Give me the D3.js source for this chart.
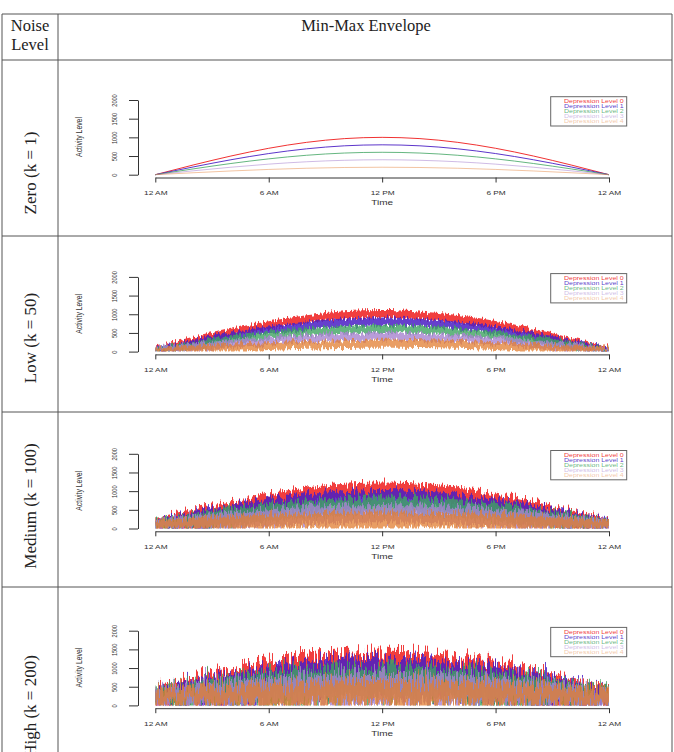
<!DOCTYPE html>
<html>
<head>
<meta charset="utf-8">
<script src="https://cdn.jsdelivr.net/npm/d3@7"></script>
<style>
body { margin: 0; background: #fff; }
svg { display: block; }
</style>
</head>
<body>
<svg id="chart" width="674" height="752"></svg>
<script>
// ---- data ----
// samples every 2 hours, midnight to midnight
const hours = [0, 2, 4, 6, 8, 10, 12, 14, 16, 18, 20, 22, 24];
const timeTicks = [0, 6, 12, 18, 24];
const timeLabels = ["12 AM", "6 AM", "12 PM", "6 PM", "12 AM"];
const activityTicks = [0, 500, 1000, 1500, 2000];
const levelNames = ["Depression Level 0", "Depression Level 1", "Depression Level 2", "Depression Level 3", "Depression Level 4"];
const rowLabels = ["Zero (k = 1)", "Low (k = 50)", "Medium (k = 100)", "High (k = 200)"];

// zero noise: one curve per level
const zeroLines = [
    [0, 259, 500, 707, 866, 966, 1000, 966, 866, 707, 500, 259, 0],
    [0, 207, 400, 566, 693, 773, 800, 773, 693, 566, 400, 207, 0],
    [0, 155, 300, 424, 520, 580, 600, 580, 520, 424, 300, 155, 0],
    [0, 104, 200, 283, 346, 386, 400, 386, 346, 283, 200, 104, 0],
    [0, 52, 100, 141, 173, 193, 200, 193, 173, 141, 100, 52, 0]
];

// low noise: max / min envelope per level
const lowUpper = [
    [110, 370, 610, 815, 975, 1080, 1115, 1075, 980, 820, 610, 365, 105],
    [105, 315, 510, 675, 805, 885, 910, 880, 800, 680, 505, 320, 100],
    [100, 265, 410, 535, 630, 690, 710, 690, 625, 530, 410, 265, 100],
    [100, 215, 310, 395, 455, 495, 505, 495, 455, 390, 310, 215, 100],
    [100, 160, 210, 250, 285, 305, 315, 305, 285, 250, 210, 160, 100]
];
const lowLower = [
    [0, 160, 400, 605, 765, 865, 900, 865, 765, 605, 400, 160, 0],
    [0, 105, 300, 465, 595, 675, 700, 675, 595, 465, 300, 105, 0],
    [0, 55, 200, 325, 420, 480, 500, 480, 420, 325, 200, 55, 0],
    [0, 5, 100, 185, 245, 285, 300, 285, 245, 185, 100, 5, 0],
    [0, 0, 0, 40, 75, 95, 100, 95, 75, 40, 0, 0, 0]
];

// medium noise
const medUpper = [
    [250, 500, 730, 940, 1100, 1200, 1230, 1195, 1095, 935, 725, 490, 240],
    [240, 440, 630, 795, 920, 1000, 1030, 1000, 920, 795, 630, 440, 235],
    [235, 385, 530, 655, 750, 810, 830, 810, 750, 655, 530, 385, 230],
    [230, 335, 430, 515, 575, 615, 630, 615, 575, 515, 430, 335, 230],
    [230, 280, 330, 370, 405, 425, 430, 425, 405, 370, 330, 280, 230]
];
const medLower = [
    [0, 30, 270, 480, 640, 740, 770, 740, 640, 480, 270, 30, 0],
    [0, 0, 170, 335, 460, 545, 570, 545, 460, 335, 170, 0, 0],
    [0, 0, 70, 195, 290, 350, 370, 350, 290, 195, 70, 0, 0],
    [0, 0, 0, 55, 115, 155, 170, 155, 115, 55, 0, 0, 0],
    [0, 0, 0, 0, 0, 0, 0, 0, 0, 0, 0, 0, 0]
];

// high noise
const highUpper = [
    [460, 720, 960, 1170, 1330, 1430, 1470, 1430, 1320, 1160, 950, 700, 450],
    [450, 660, 850, 1020, 1140, 1220, 1250, 1220, 1140, 1020, 850, 660, 450],
    [450, 600, 750, 875, 970, 1030, 1050, 1030, 970, 875, 750, 600, 450],
    [450, 555, 650, 735, 795, 835, 850, 835, 795, 735, 650, 555, 450],
    [450, 500, 550, 590, 625, 645, 650, 645, 625, 590, 550, 500, 450]
];
const highLower = [
    [0, 0, 50, 260, 420, 520, 550, 520, 420, 260, 50, 0, 0],
    [0, 0, 0, 120, 240, 320, 350, 320, 240, 120, 0, 0, 0],
    [0, 0, 0, 0, 70, 130, 150, 130, 70, 0, 0, 0, 0],
    [0, 0, 0, 0, 0, 0, 0, 0, 0, 0, 0, 0, 0],
    [0, 0, 0, 0, 0, 0, 0, 0, 0, 0, 0, 0, 0]
];

// ---- styling / layout ----
const levelColours = ["#ee1c1c", "#4a1fc4", "#3fa460", "#a783cf", "#e27d30"];
const bandOpacity = [0.85, 0.85, 0.8, 0.8, 0.75];
const lineOpacity = [0.9, 0.9, 0.8, 0.55, 0.45];
const jagScale = [0, 10, 18, 38];
const serif = "'Liberation Serif', 'DejaVu Serif', serif";
const sans = "'Liberation Sans', Arial, sans-serif";
const squash = 0.72;

const panels = [
    {lines: zeroLines},
    {upper: lowUpper, lower: lowLower},
    {upper: medUpper, lower: medLower},
    {upper: highUpper, lower: highLower}
];

const svg = d3.select("#chart");
const defs = svg.append("defs");

// table frame
const tableTop = 14, tableLeft = 2, tableRight = 672, colSplit = 58;
const rowLines = [60, 236, 412, 587];
const frame = svg.append("g").attr("stroke", "#555").attr("stroke-width", 1);
[tableTop].concat(rowLines).forEach(function(y) {
    frame.append("line").attr("x1", tableLeft).attr("x2", tableRight).attr("y1", y).attr("y2", y);
});
[tableLeft, colSplit, tableRight].forEach(function(x) {
    frame.append("line").attr("x1", x).attr("x2", x).attr("y1", tableTop).attr("y2", 752);
});

// header
svg.append("text").attr("x", 30).attr("y", 31).attr("text-anchor", "middle")
    .attr("font-family", serif).attr("font-size", 16.5).attr("fill", "#222").text("Noise");
svg.append("text").attr("x", 30).attr("y", 50).attr("text-anchor", "middle")
    .attr("font-family", serif).attr("font-size", 16.5).attr("fill", "#222").text("Level");
svg.append("text").attr("x", 366).attr("y", 31).attr("text-anchor", "middle")
    .attr("font-family", serif).attr("font-size", 16.5).attr("fill", "#222").text("Min-Max Envelope");

// rotated row labels
const rowLabelY = [173, 338, 506, 706];
rowLabels.forEach(function(lbl, i) {
    svg.append("text")
        .attr("transform", "translate(30," + rowLabelY[i] + ") rotate(-90)")
        .attr("text-anchor", "middle").attr("dy", "0.35em")
        .attr("font-family", serif).attr("font-size", 17).attr("fill", "#222")
        .text(lbl);
});

const x = d3.scaleLinear().domain([0, 24]).range([155.3, 609]);

panels.forEach(function(panel, p) {
    const top = 100 + p * 176.9;
    const y = d3.scaleLinear().domain([0, 2000]).range([top + 74.7, top]);
    const g = svg.append("g");

    if (panel.lines) {
        const line = d3.line()
            .x(function(d, i) { return x(hours[i]); })
            .y(function(d) { return y(d); })
            .curve(d3.curveMonotoneX);
        panel.lines.forEach(function(vals, l) {
            g.append("path").attr("d", line(vals))
                .attr("fill", "none")
                .attr("stroke", levelColours[l])
                .attr("stroke-opacity", lineOpacity[l])
                .attr("stroke-width", 1);
        });
    } else {
        // clip so the jagged bands stop at zero
        const clipId = "clip" + p;
        defs.append("clipPath").attr("id", clipId)
            .append("rect").attr("x", x(0)).attr("y", top - 40)
            .attr("width", x(24) - x(0)).attr("height", y(0) - top + 40);
        const bands = g.append("g").attr("clip-path", "url(#" + clipId + ")");

        const area = d3.area()
            .x(function(d, i) { return x(hours[i]); })
            .y0(function(d) { return y(d[0]); })
            .y1(function(d) { return y(d[1]); })
            .curve(d3.curveMonotoneX);

        panel.upper.forEach(function(up, l) {
            const fid = "jag" + p + "_" + l;
            const f = defs.append("filter").attr("id", fid)
                .attr("filterUnits", "userSpaceOnUse")
                .attr("x", 0).attr("y", 0).attr("width", 674).attr("height", 752)
                .attr("color-interpolation-filters", "sRGB");
            f.append("feTurbulence").attr("type", "fractalNoise")
                .attr("baseFrequency", "0.55 0.025").attr("numOctaves", 2)
                .attr("seed", p * 10 + l + 1).attr("result", "n");
            f.append("feColorMatrix").attr("in", "n").attr("type", "matrix")
                .attr("values", "0 0 0 0 0.5  0 1 0 0 0  0 0 0 0 0  0 0 0 0 1")
                .attr("result", "m");
            f.append("feDisplacementMap").attr("in", "SourceGraphic").attr("in2", "m")
                .attr("scale", jagScale[p])
                .attr("xChannelSelector", "R").attr("yChannelSelector", "G");

            const pts = up.map(function(v, i) { return [panel.lower[l][i], v]; });
            bands.append("path").attr("d", area(pts))
                .attr("fill", levelColours[l])
                .attr("fill-opacity", bandOpacity[l])
                .attr("filter", "url(#" + fid + ")");
        });
    }

    // x axis
    const xAxis = g.append("g")
        .attr("transform", "translate(0," + (top + 77.5) + ")")
        .call(d3.axisBottom(x).tickValues(timeTicks)
            .tickFormat(function(d, i) { return timeLabels[i]; })
            .tickSize(5).tickSizeOuter(0));
    xAxis.selectAll(".domain, .tick line").attr("stroke", "#333");
    xAxis.selectAll(".tick text")
        .attr("y", 0).attr("dy", "0.35em")
        .attr("transform", "translate(0,15.5) scale(1," + squash + ")")
        .attr("font-family", sans).attr("font-size", 8.3).attr("fill", "#333");

    // y axis
    const yAxis = g.append("g")
        .attr("transform", "translate(138,0)")
        .call(d3.axisLeft(y).tickValues(activityTicks).tickFormat(d3.format("d"))
            .tickSize(9).tickSizeOuter(0));
    yAxis.selectAll(".domain, .tick line").attr("stroke", "#333");
    yAxis.selectAll(".tick text")
        .attr("x", 0).attr("y", 0).attr("dy", "0.35em")
        .attr("text-anchor", "middle")
        .attr("transform", "translate(-24,0) rotate(-90) scale(" + squash + ",1)")
        .attr("font-family", sans).attr("font-size", 7.8).attr("fill", "#333");

    // axis titles
    g.append("text")
        .attr("transform", "translate(" + x(12) + "," + (top + 102.7) + ") scale(1," + squash + ")")
        .attr("text-anchor", "middle").attr("dy", "0.35em")
        .attr("font-family", sans).attr("font-size", 10).attr("fill", "#333")
        .text("Time");
    g.append("text")
        .attr("transform", "translate(79," + (top + 37) + ") rotate(-90) scale(" + squash + ",1)")
        .attr("text-anchor", "middle").attr("dy", "0.35em")
        .attr("font-family", sans).attr("font-size", 9.5).attr("fill", "#333")
        .text("Activity Level");

    // legend
    const lg = g.append("g");
    lg.append("rect").attr("x", 550.7).attr("y", top - 3.3)
        .attr("width", 76).attr("height", 29.3)
        .attr("fill", "#fff").attr("stroke", "#666").attr("stroke-width", 1);
    levelNames.forEach(function(name, l) {
        lg.append("text")
            .attr("transform", "translate(564," + (top + 1.3 + l * 5) + ") scale(1," + squash + ")")
            .attr("dy", "0.35em")
            .attr("font-family", sans).attr("font-size", 7).attr("fill", levelColours[l])
            .attr("fill-opacity", lineOpacity[l])
            .text(name);
    });
});
</script>
</body>
</html>
